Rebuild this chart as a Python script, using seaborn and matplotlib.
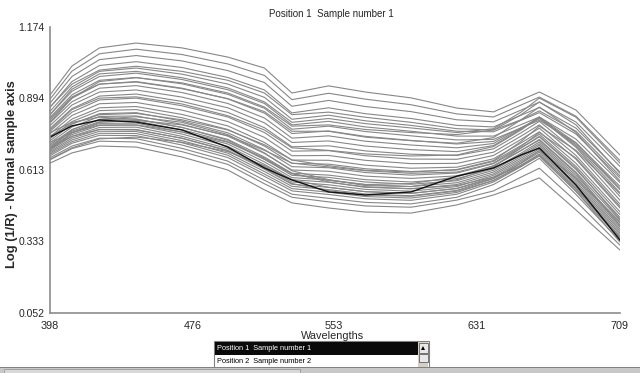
import numpy as np
import pandas as pd
import matplotlib
matplotlib.use("Agg")
import matplotlib.pyplot as plt
from matplotlib.patches import Rectangle, Polygon
import seaborn as sns

wavelengths = [398, 410, 425, 445, 470, 495, 515, 530, 550, 570, 595, 620, 640, 655, 665, 685, 709]
x_ticks = [398, 476, 553, 631, 709]
y_ticks = [0.052, 0.333, 0.613, 0.894, 1.174]

# highlighted sample (Position 1)
sample_1 = [0.742, 0.786, 0.809, 0.801, 0.770, 0.703, 0.621, 0.574, 0.527, 0.515, 0.527, 0.589, 0.621, 0.672, 0.699, 0.554, 0.338]

# all other samples, log(1/R)
s01 = [0.640, 0.680, 0.707, 0.703, 0.664, 0.613, 0.535, 0.484, 0.464, 0.448, 0.444, 0.476, 0.515, 0.554, 0.582, 0.456, 0.299]
s02 = [0.653, 0.697, 0.726, 0.723, 0.685, 0.635, 0.559, 0.506, 0.488, 0.472, 0.467, 0.495, 0.531, 0.585, 0.620, 0.490, 0.318]
s03 = [0.661, 0.707, 0.738, 0.736, 0.698, 0.648, 0.573, 0.518, 0.502, 0.486, 0.480, 0.506, 0.556, 0.616, 0.659, 0.517, 0.335]
s04 = [0.669, 0.718, 0.749, 0.748, 0.711, 0.662, 0.588, 0.531, 0.517, 0.500, 0.494, 0.518, 0.566, 0.626, 0.669, 0.529, 0.345]
s05 = [0.675, 0.724, 0.757, 0.756, 0.720, 0.671, 0.597, 0.540, 0.526, 0.509, 0.503, 0.525, 0.572, 0.632, 0.676, 0.537, 0.352]
s06 = [0.680, 0.731, 0.765, 0.764, 0.728, 0.679, 0.607, 0.549, 0.536, 0.519, 0.512, 0.533, 0.579, 0.639, 0.683, 0.545, 0.360]
s07 = [0.685, 0.738, 0.772, 0.772, 0.737, 0.688, 0.616, 0.557, 0.545, 0.528, 0.521, 0.541, 0.585, 0.646, 0.689, 0.553, 0.367]
s08 = [0.691, 0.745, 0.780, 0.781, 0.745, 0.697, 0.626, 0.566, 0.555, 0.537, 0.530, 0.548, 0.592, 0.652, 0.696, 0.560, 0.375]
s09 = [0.696, 0.752, 0.788, 0.789, 0.754, 0.706, 0.635, 0.575, 0.565, 0.547, 0.539, 0.556, 0.598, 0.659, 0.703, 0.568, 0.382]
s10 = [0.701, 0.758, 0.796, 0.797, 0.762, 0.715, 0.645, 0.583, 0.574, 0.556, 0.548, 0.563, 0.605, 0.666, 0.710, 0.576, 0.390]
s11 = [0.707, 0.765, 0.803, 0.805, 0.771, 0.724, 0.655, 0.592, 0.584, 0.566, 0.557, 0.571, 0.612, 0.673, 0.716, 0.584, 0.397]
s12 = [0.712, 0.772, 0.811, 0.813, 0.780, 0.733, 0.664, 0.600, 0.593, 0.575, 0.566, 0.579, 0.618, 0.679, 0.723, 0.592, 0.405]
s13 = [0.720, 0.782, 0.823, 0.825, 0.792, 0.746, 0.678, 0.613, 0.608, 0.589, 0.580, 0.590, 0.628, 0.689, 0.733, 0.604, 0.416]
s14 = [0.728, 0.793, 0.834, 0.838, 0.805, 0.759, 0.693, 0.626, 0.622, 0.603, 0.593, 0.601, 0.638, 0.699, 0.743, 0.615, 0.427]
s15 = [0.736, 0.803, 0.846, 0.850, 0.818, 0.772, 0.707, 0.639, 0.636, 0.618, 0.607, 0.613, 0.647, 0.709, 0.753, 0.627, 0.438]
s16 = [0.744, 0.813, 0.857, 0.862, 0.831, 0.786, 0.721, 0.652, 0.651, 0.632, 0.620, 0.624, 0.657, 0.719, 0.763, 0.639, 0.449]
s17 = [0.755, 0.827, 0.873, 0.878, 0.848, 0.803, 0.741, 0.669, 0.670, 0.651, 0.638, 0.639, 0.670, 0.733, 0.777, 0.655, 0.464]
s18 = [0.765, 0.840, 0.888, 0.895, 0.865, 0.821, 0.760, 0.687, 0.689, 0.669, 0.656, 0.655, 0.683, 0.746, 0.790, 0.670, 0.479]
s19 = [0.776, 0.854, 0.903, 0.911, 0.882, 0.839, 0.779, 0.704, 0.708, 0.688, 0.675, 0.670, 0.696, 0.759, 0.804, 0.686, 0.494]
s20 = [0.787, 0.868, 0.919, 0.927, 0.899, 0.857, 0.798, 0.721, 0.727, 0.707, 0.693, 0.685, 0.709, 0.773, 0.817, 0.702, 0.509]
s21 = [0.798, 0.881, 0.934, 0.944, 0.917, 0.874, 0.817, 0.738, 0.747, 0.726, 0.711, 0.700, 0.717, 0.776, 0.821, 0.707, 0.524]
s22 = [0.808, 0.895, 0.950, 0.960, 0.934, 0.892, 0.836, 0.756, 0.766, 0.745, 0.729, 0.715, 0.725, 0.779, 0.814, 0.713, 0.536]
s23 = [0.819, 0.908, 0.965, 0.976, 0.951, 0.910, 0.855, 0.773, 0.785, 0.764, 0.747, 0.731, 0.733, 0.778, 0.808, 0.719, 0.549]
s24 = [0.830, 0.922, 0.980, 0.993, 0.968, 0.928, 0.874, 0.790, 0.804, 0.782, 0.765, 0.746, 0.746, 0.791, 0.821, 0.734, 0.564]
s25 = [0.843, 0.939, 1.000, 1.013, 0.989, 0.950, 0.898, 0.812, 0.828, 0.806, 0.788, 0.765, 0.763, 0.808, 0.838, 0.754, 0.582]
s26 = [0.859, 0.960, 1.023, 1.038, 1.015, 0.976, 0.927, 0.837, 0.857, 0.834, 0.815, 0.788, 0.782, 0.828, 0.858, 0.777, 0.605]
s27 = [0.875, 0.980, 1.046, 1.062, 1.041, 1.003, 0.956, 0.863, 0.886, 0.862, 0.842, 0.810, 0.802, 0.848, 0.879, 0.801, 0.627]
s28 = [0.891, 1.001, 1.069, 1.087, 1.066, 1.029, 0.984, 0.889, 0.914, 0.891, 0.869, 0.833, 0.821, 0.868, 0.899, 0.824, 0.650]
s29 = [0.907, 1.021, 1.092, 1.111, 1.092, 1.056, 1.013, 0.915, 0.943, 0.919, 0.896, 0.856, 0.841, 0.888, 0.919, 0.848, 0.672]
s30 = [0.700, 0.770, 0.812, 0.822, 0.800, 0.752, 0.680, 0.610, 0.575, 0.552, 0.548, 0.575, 0.625, 0.700, 0.745, 0.620, 0.420]
s31 = [0.760, 0.800, 0.820, 0.812, 0.780, 0.730, 0.655, 0.598, 0.572, 0.556, 0.560, 0.586, 0.630, 0.690, 0.730, 0.600, 0.395]
s32 = [0.690, 0.760, 0.800, 0.808, 0.790, 0.748, 0.690, 0.640, 0.625, 0.610, 0.600, 0.605, 0.640, 0.705, 0.760, 0.660, 0.470]
s33 = [0.720, 0.760, 0.790, 0.790, 0.762, 0.722, 0.660, 0.600, 0.566, 0.545, 0.540, 0.552, 0.585, 0.630, 0.668, 0.530, 0.330]
s34 = [0.770, 0.850, 0.895, 0.900, 0.872, 0.826, 0.770, 0.700, 0.690, 0.676, 0.668, 0.672, 0.705, 0.770, 0.820, 0.720, 0.540]
s35 = [0.800, 0.895, 0.960, 0.975, 0.955, 0.915, 0.860, 0.785, 0.790, 0.772, 0.760, 0.752, 0.770, 0.830, 0.880, 0.790, 0.600]
s36 = [0.830, 0.930, 0.990, 1.000, 0.975, 0.935, 0.880, 0.800, 0.815, 0.795, 0.778, 0.760, 0.775, 0.840, 0.895, 0.820, 0.640]
s37 = [0.745, 0.795, 0.830, 0.835, 0.810, 0.770, 0.712, 0.652, 0.630, 0.612, 0.605, 0.615, 0.650, 0.725, 0.785, 0.690, 0.520]
s38 = [0.655, 0.700, 0.735, 0.742, 0.722, 0.685, 0.630, 0.575, 0.545, 0.528, 0.522, 0.540, 0.580, 0.640, 0.690, 0.580, 0.410]
s39 = [0.700, 0.745, 0.772, 0.770, 0.738, 0.690, 0.620, 0.560, 0.532, 0.515, 0.510, 0.530, 0.572, 0.628, 0.672, 0.540, 0.350]
s40 = [0.860, 0.950, 1.005, 1.020, 1.000, 0.965, 0.915, 0.830, 0.840, 0.820, 0.800, 0.775, 0.770, 0.810, 0.845, 0.765, 0.590]
s41 = [0.815, 0.900, 0.950, 0.958, 0.932, 0.893, 0.842, 0.765, 0.765, 0.742, 0.728, 0.718, 0.740, 0.810, 0.860, 0.760, 0.570]

spectra = [s01, s02, s03, s04, s05, s06, s07, s08, s09, s10, s11, s12, s13, s14,
           s15, s16, s17, s18, s19, s20, s21, s22, s23, s24, s25, s26, s27, s28,
           s29, s30, s31, s32, s33, s34, s35, s36, s37, s38, s39, s40, s41]

rows = []
for i, s in enumerate(spectra):
    for w, v in zip(wavelengths, s):
        rows.append({"sample": i, "wavelength": w, "logR": v})
df = pd.DataFrame(rows)
df_1 = pd.DataFrame({"wavelength": wavelengths, "logR": sample_1})

sns.set_style("white")
plt.rcParams["font.family"] = ["Liberation Sans", "DejaVu Sans"]

W, H = 640, 373
fig = plt.figure(figsize=(6.4, 3.73), dpi=100)


def fx(x):
    return x / W


def fy(y):
    return 1 - y / H


ax = fig.add_axes([fx(50), fy(313), fx(620) - fx(50), fy(27) - fy(313)])
sns.lineplot(data=df, x="wavelength", y="logR", units="sample", estimator=None,
             color="#878787", lw=0.8, ax=ax, legend=False)
sns.lineplot(data=df_1, x="wavelength", y="logR", color="#111111", lw=1.0, ax=ax)

ax.set_xlim(398, 709)
ax.set_ylim(0.052, 1.174)
ax.set_xticks(x_ticks)
ax.set_xticklabels([str(t) for t in x_ticks])
ax.set_yticks(y_ticks)
ax.set_yticklabels([f"{t:.3f}" for t in y_ticks])
ax.tick_params(axis="x", direction="in", length=2, width=0.8, color="#808080",
               labelsize=7.8, pad=6)
ax.tick_params(axis="y", direction="out", length=3, width=0.8, color="#808080",
               labelsize=7.5, pad=1)
for side in ["top", "right"]:
    ax.spines[side].set_visible(False)
for side in ["left", "bottom"]:
    ax.spines[side].set_color("#8c8c8c")
    ax.spines[side].set_linewidth(1.2)
ax.set_xlabel("")
ax.set_ylabel("")

fig.text(fx(331), fy(14), "Position 1  Sample number 1", ha="center", va="center", fontsize=7)
fig.text(fx(333), fy(336), "Wavelengths", ha="center", va="center", fontsize=7.8)
fig.text(fx(12), fy(174), "Log (1/R) - Normal sample axis", rotation=90, ha="center",
         va="center", fontsize=9.3, fontweight="bold")


def rect(x0, y0, x1, y1, **kw):
    r = Rectangle((fx(x0), fy(y1)), fx(x1) - fx(x0), fy(y0) - fy(y1),
                  transform=fig.transFigure, **kw)
    fig.add_artist(r)
    return r


# list box below the plot
rect(214, 341, 429, 368, facecolor="white", edgecolor="#808080", lw=0.8)
rect(215, 342, 418, 355, facecolor="#0a0a0a", edgecolor="none")
fig.text(fx(217), fy(348.5), "Position 1  Sample number 1", color="white", ha="left",
         va="center", fontsize=5.3)
fig.text(fx(217), fy(361.5), "Position 2  Sample number 2", color="black", ha="left",
         va="center", fontsize=5.3)
rect(418, 342, 428, 368, facecolor="#d4d0c8", edgecolor="none")
rect(418.5, 342.5, 427.5, 353, facecolor="#e8e8e8", edgecolor="#606060", lw=0.6)
fig.add_artist(Polygon([(fx(421), fy(350)), (fx(425), fy(350)), (fx(423), fy(346))],
                       closed=True, transform=fig.transFigure, facecolor="black", edgecolor="none"))
rect(418.5, 354, 427.5, 362, facecolor="#e8e8e8", edgecolor="#606060", lw=0.6)

# status bar at the bottom edge
rect(0, 367, 640, 373, facecolor="#c8c8c8", edgecolor="none")
rect(0, 366.5, 640, 367.5, facecolor="#808080", edgecolor="none")
rect(4, 369, 300, 373, facecolor="#d8d8d8", edgecolor="#9a9a9a", lw=0.6)

fig.savefig("out.png", dpi=100, facecolor="white")
